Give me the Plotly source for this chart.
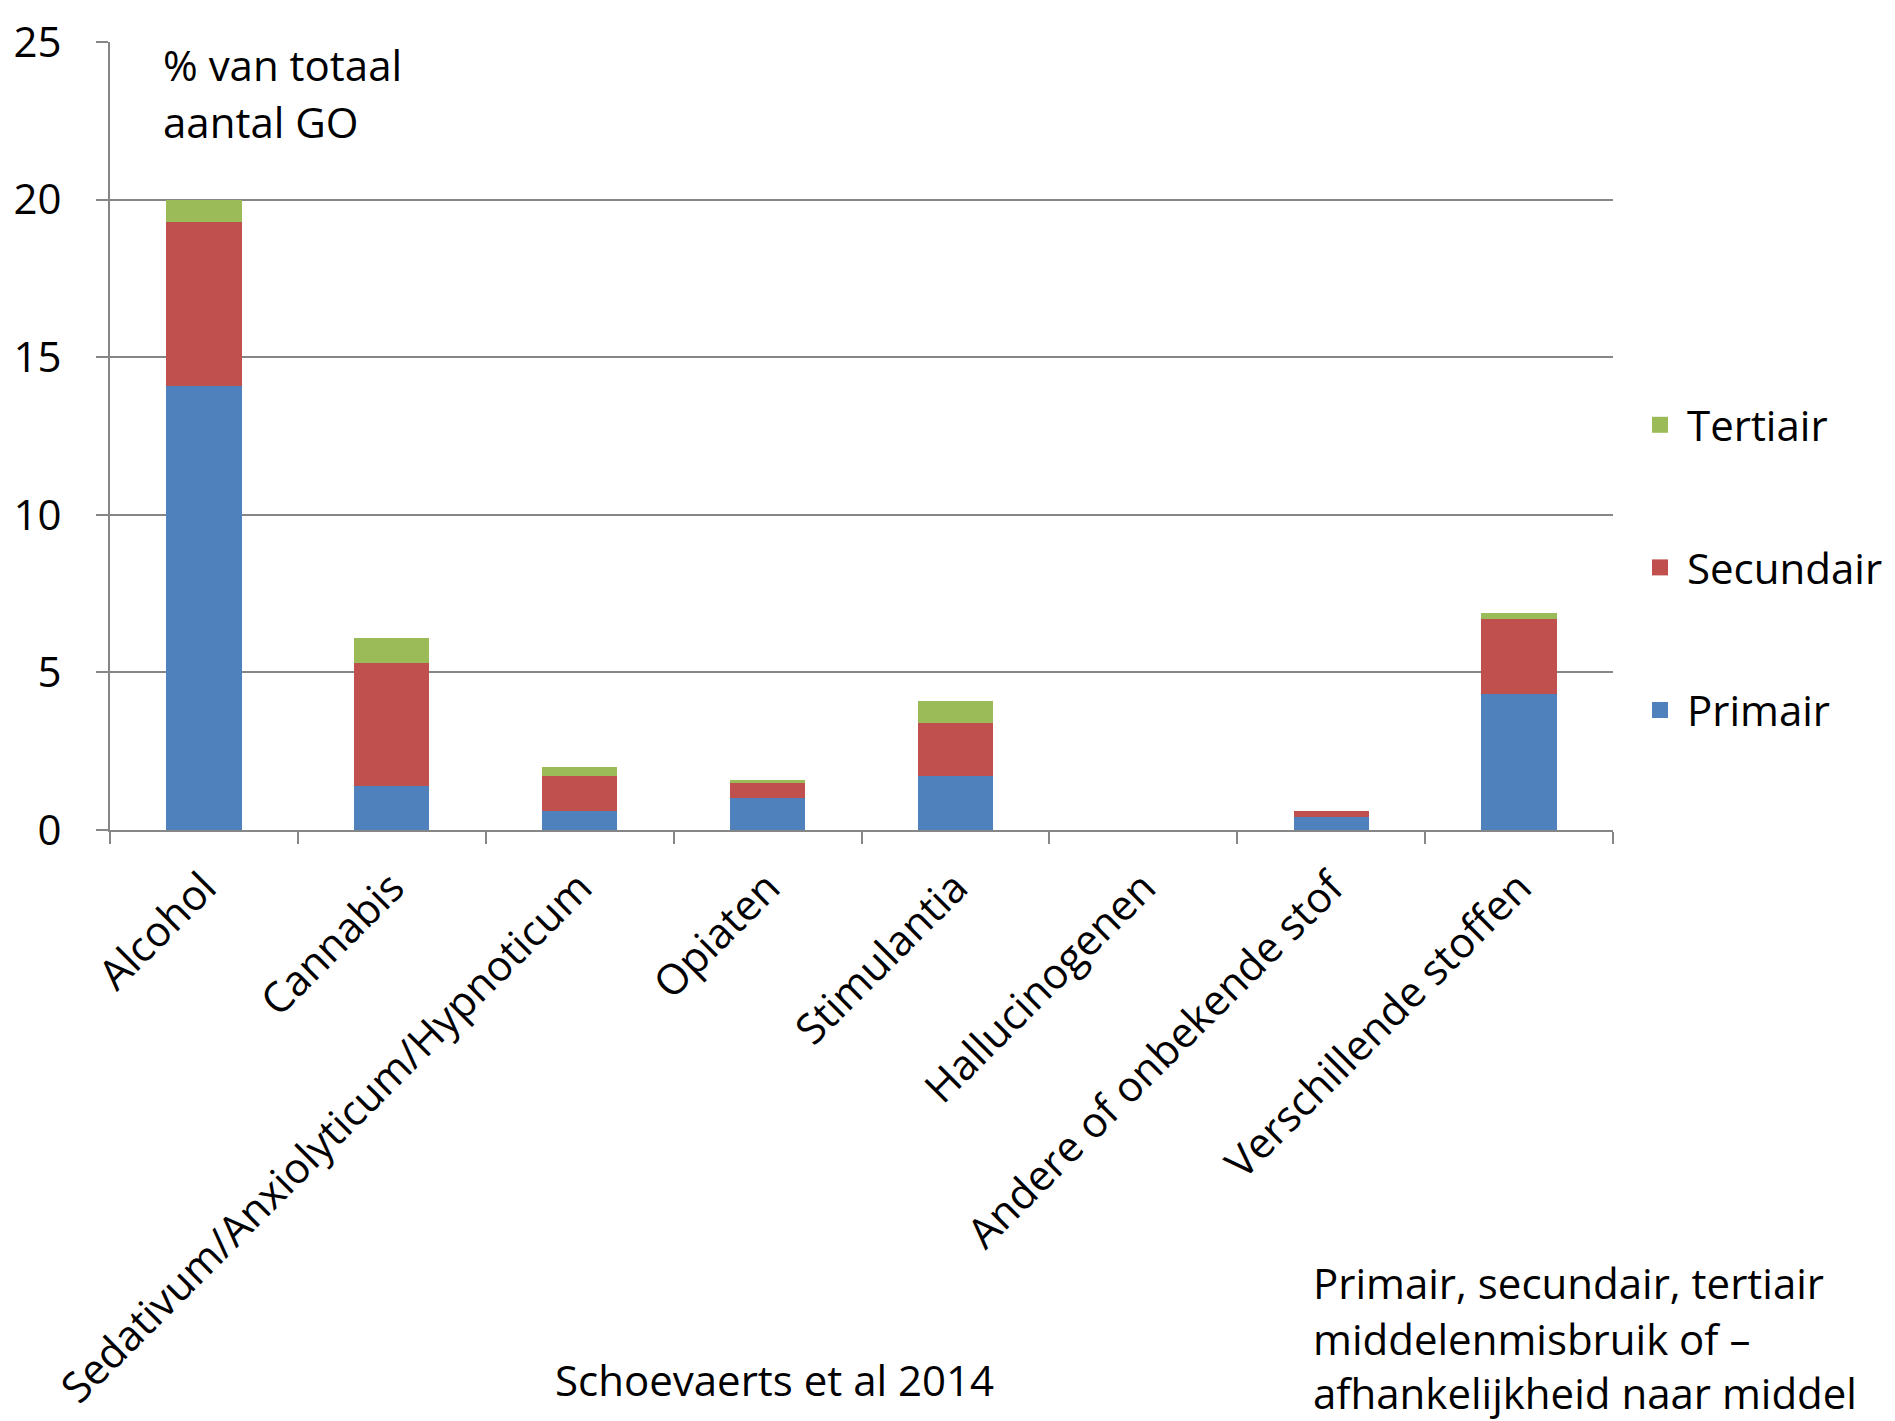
import plotly.graph_objects as go

# Stacked shares (% of total) per substance category
categories = [
    "Alcohol", "Cannabis", "Sedativum/Anxiolyticum/Hypnoticum", "Opiaten",
    "Stimulantia", "Hallucinogenen", "Andere of onbekende stof", "Verschillende stoffen",
]
primair = [14.1, 1.4, 0.6, 1.0, 1.7, 0.0, 0.4, 4.3]
secundair = [5.2, 3.9, 1.1, 0.5, 1.7, 0.0, 0.2, 2.4]
tertiair = [0.7, 0.8, 0.3, 0.1, 0.7, 0.0, 0.0, 0.2]

y_ticks = [0, 5, 10, 15, 20, 25]

FONT = "Open Sans"
FS = 42
GRID = "#868686"

fig = go.Figure()
series = [
    ("Primair", primair, "#4F81BD", 3),
    ("Secundair", secundair, "#C0504D", 2),
    ("Tertiair", tertiair, "#9BBB59", 1),
]
for name, vals, col, rank in series:
    fig.add_trace(go.Bar(
        name=name, x=categories, y=vals, marker_color=col,
        marker_line_width=0, showlegend=False,
    ))
    # legend entry with a larger square swatch
    fig.add_trace(go.Scatter(
        name=name, x=[None], y=[None], mode="markers",
        marker=dict(symbol="square", size=16, color=col),
        legendgroup=name, legendrank=rank, showlegend=True,
    ))

# Plot area geometry in pixels (for placing paper-referenced text)
L, R, T, B = 110, 1613, 42, 830
W, H = R - L, B - T

def px(x):
    return (x - L) / W

def py(y):
    return (B - y) / H

annotations = [
    dict(text="% van totaal", x=px(161), y=py(64)),
    dict(text="aantal GO", x=px(161), y=py(122)),
    dict(text="Schoevaerts et al 2014", x=px(553), y=py(1379)),
    dict(text="Primair, secundair, tertiair", x=px(1311), y=py(1282)),
    dict(text="middelenmisbruik of \u2013", x=px(1311), y=py(1338)),
    dict(text="afhankelijkheid naar middel", x=px(1311), y=py(1392)),
]
fig.update_layout(
    annotations=[
        dict(a, xref="paper", yref="paper", xanchor="left", yanchor="middle",
             showarrow=False, font=dict(family=FONT, size=FS, color="black"))
        for a in annotations
    ]
)

fig.update_layout(
    barmode="stack",
    bargap=0.6,
    width=1895, height=1421,
    margin=dict(l=L, r=1895 - R, t=T, b=1421 - B, autoexpand=False),
    paper_bgcolor="white", plot_bgcolor="white",
    font=dict(family=FONT, size=FS, color="black"),
    legend=dict(
        traceorder="grouped", tracegroupgap=85,
        x=px(1633), xanchor="left", y=py(391), yanchor="top",
        font=dict(family=FONT, size=FS, color="black"),
        bgcolor="rgba(0,0,0,0)", itemwidth=44,
    ),
    xaxis=dict(
        type="category", tickangle=-45, tickson="boundaries",
        ticks="outside", ticklen=12, tickwidth=2, tickcolor=GRID,
        showline=True, linecolor=GRID, linewidth=2, showgrid=False,
        tickfont=dict(family=FONT, size=FS, color="black"),
        ticklabelstandoff=14,
    ),
    yaxis=dict(
        range=[0, 25], tickvals=y_ticks, ticktext=[str(v) for v in y_ticks],
        ticks="outside", ticklen=12, tickwidth=2, tickcolor=GRID,
        showline=True, linecolor=GRID, linewidth=2,
        showgrid=True, gridcolor=GRID, gridwidth=2, zeroline=False,
        tickfont=dict(family=FONT, size=FS, color="black"),
        ticklabelstandoff=26,
    ),
)

fig.write_html("out.html")
